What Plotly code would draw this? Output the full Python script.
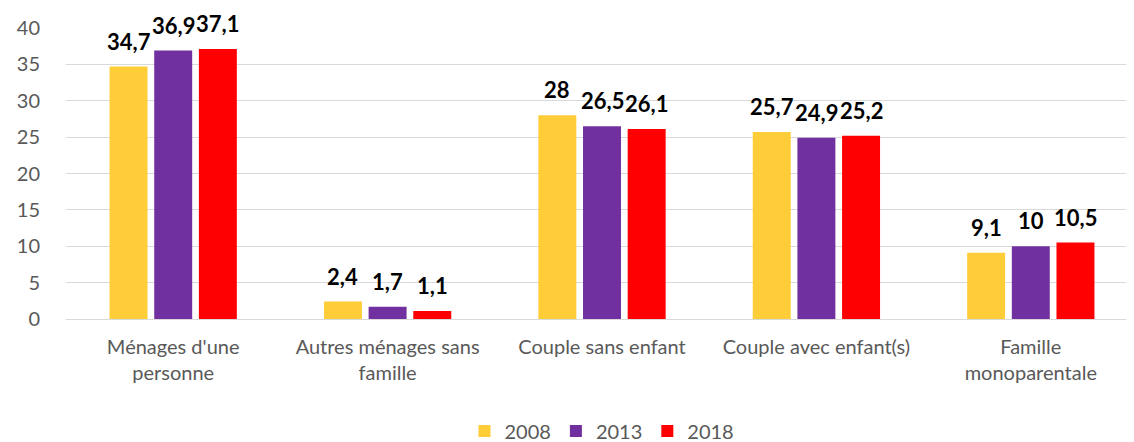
import plotly.graph_objects as go

categories = ["Ménages d'une<br>personne", "Autres ménages sans<br>famille", "Couple sans enfant",
              "Couple avec enfant(s)", "Famille<br>monoparentale"]
years = ["2008", "2013", "2018"]
v2008 = [34.7, 2.4, 28, 25.7, 9.1]
v2013 = [36.9, 1.7, 26.5, 24.9, 10]
v2018 = [37.1, 1.1, 26.1, 25.2, 10.5]
colors = ["#FFCD38", "#7030A0", "#FF0000"]

W, H = 1134, 442
ML, MR, MT, MB = 58, 4, 20, 131
BARGAP, GROUPGAP = 0.375, 0.15

def fmt(v):
    return ("%g" % v).replace(".", ",")

fig = go.Figure()
series = list(zip(years, [v2008, v2013, v2018], colors))
for name, vals, col in series:
    fig.add_trace(go.Bar(
        x=categories, y=vals, name=name, marker=dict(color=col, line=dict(width=0)),
    ))

plot_w = W - ML - MR
cat_w = plot_w / len(categories)
slot = cat_w * (1 - BARGAP) / len(series)
for i, (name, vals, col) in enumerate(series):
    off = (i - (len(series) - 1) / 2) * slot
    for c, v in zip(categories, vals):
        fig.add_annotation(x=c, y=v, text="<b>%s</b>" % fmt(v), showarrow=False,
                           xref="x", yref="y", xanchor="center", yanchor="bottom",
                           xshift=off, yshift=10,
                           font=dict(family="Lato, Arial", size=22, color="black"))

fig.update_layout(
    width=W, height=H,
    margin=dict(l=ML, r=MR, t=MT, b=MB),
    paper_bgcolor="white", plot_bgcolor="white",
    barmode="group", bargap=BARGAP, bargroupgap=GROUPGAP,
    font=dict(family="Lato, Arial", size=20, color="#595959"),
    legend=dict(orientation="h", x=0.5, xanchor="center", yref="container", y=19 / H, yanchor="middle",
                font=dict(size=20, color="#595959"), itemwidth=30, traceorder="normal"),
    showlegend=True,
)
fig.update_yaxes(range=[0, 40], dtick=5, showgrid=True, gridcolor="#D9D9D9", gridwidth=1,
                 zeroline=True, zerolinecolor="#D9D9D9", zerolinewidth=1, showline=False,
                 ticks="", tickfont=dict(size=20, color="#595959"), ticklabelstandoff=25)
fig.update_xaxes(showline=False, ticks="", tickfont=dict(size=20, color="#595959"), tickangle=0,
                 ticklabelstandoff=14)

fig.write_html("out.html")
